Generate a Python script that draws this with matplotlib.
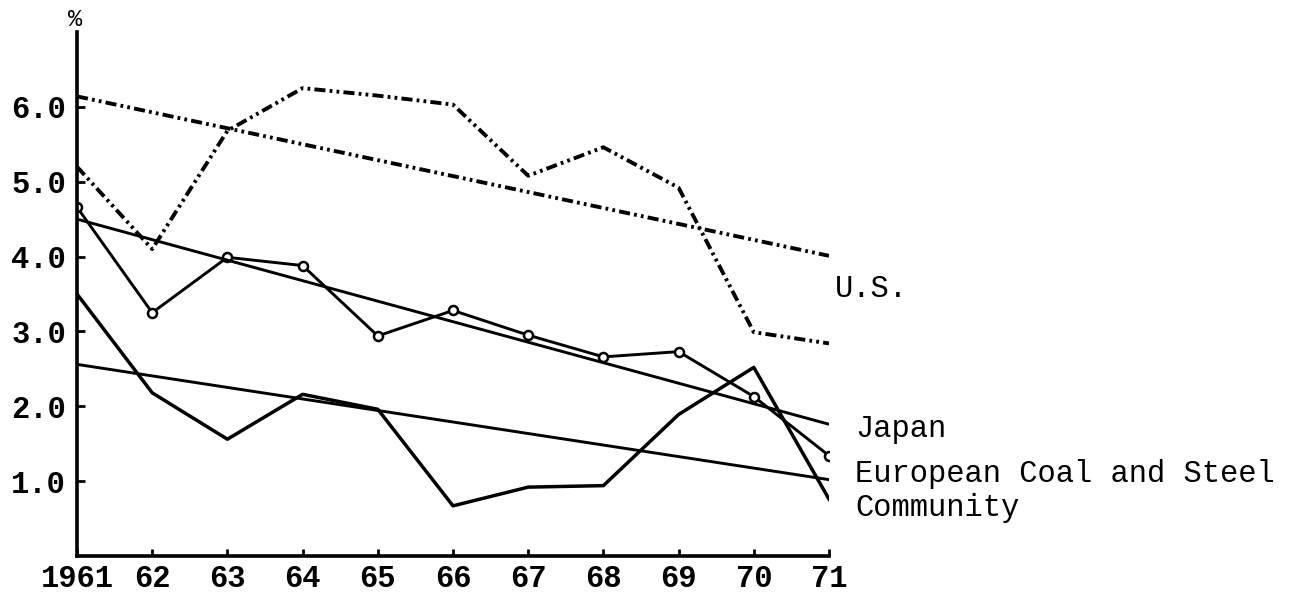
import matplotlib
matplotlib.use("Agg")
import matplotlib.pyplot as plt

# ---- data ----
years = [1961, 1962, 1963, 1964, 1965, 1966, 1967, 1968, 1969, 1970, 1971]
year_labels = ["1961", "62", "63", "64", "65", "66", "67", "68", "69", "70", "71"]
y_ticks = [1.0, 2.0, 3.0, 4.0, 5.0, 6.0]
y_tick_labels = ["1.0", "2.0", "3.0", "4.0", "5.0", "6.0"]

us = [5.20, 4.10, 5.68, 6.25, 6.15, 6.03, 5.08, 5.46, 4.92, 2.99, 2.84]
japan = [4.66, 3.25, 3.99, 3.88, 2.94, 3.28, 2.95, 2.66, 2.73, 2.13, 1.34]
ecsc = [3.50, 2.18, 1.56, 2.16, 1.96, 0.67, 0.92, 0.94, 1.89, 2.52, 0.76]

trend_years = [1961, 1971]
us_trend = [6.14, 4.01]
japan_trend = [4.50, 1.76]
ecsc_trend = [2.56, 1.02]

series_labels = ["U.S.", "Japan", "European Coal and Steel", "Community"]

# ---- styling ----
plt.rcParams["font.family"] = ["Liberation Mono", "DejaVu Sans Mono"]
plt.rcParams["lines.scale_dashes"] = False
FS = 22

fig = plt.figure(figsize=(12.94, 5.94), dpi=100)
ax = fig.add_axes([77 / 1294, 38 / 594, 752 / 1294, 524 / 594])

dash = (8, 3, 2, 3, 2, 3)
ax.plot(years, us, color="black", lw=2.8, dashes=dash, dash_capstyle="butt")
ax.plot(trend_years, us_trend, color="black", lw=2.8, dashes=dash,
        dash_capstyle="butt")

ax.plot(years, japan, color="black", lw=2.1, marker="o", markersize=6.5,
        markerfacecolor="white", markeredgecolor="black", markeredgewidth=1.8)
ax.plot(trend_years, japan_trend, color="black", lw=2.1)

ax.plot(years, ecsc, color="black", lw=2.5)
ax.plot(trend_years, ecsc_trend, color="black", lw=2.1)

ax.set_xlim(1961, 1971)
ax.set_ylim(0, 7.0)

for s in ["top", "right"]:
    ax.spines[s].set_visible(False)
for s in ["left", "bottom"]:
    ax.spines[s].set_linewidth(2.6)

ax.set_xticks(years)
ax.set_xticklabels(year_labels, fontsize=FS, fontweight="bold")
ax.set_yticks(y_ticks)
ax.set_yticklabels(y_tick_labels, fontsize=FS, fontweight="bold")
ax.tick_params(axis="x", direction="in", length=5, width=2, pad=6)
ax.tick_params(axis="y", direction="in", length=6, width=2, pad=8)

# percent sign above the axis
ax.text(1960.98, 7.17, "%", fontsize=17, ha="center", va="center", clip_on=False)

# series labels
ax.text(1971.08, 3.57, series_labels[0], fontsize=FS, ha="left", va="center", clip_on=False)
ax.text(1971.35, 1.70, series_labels[1], fontsize=FS, ha="left", va="center", clip_on=False)
ax.text(1971.35, 1.10, series_labels[2], fontsize=FS, ha="left", va="center", clip_on=False)
ax.text(1971.35, 0.64, series_labels[3], fontsize=FS, ha="left", va="center", clip_on=False)

fig.savefig("out.png", dpi=100, facecolor="white")
